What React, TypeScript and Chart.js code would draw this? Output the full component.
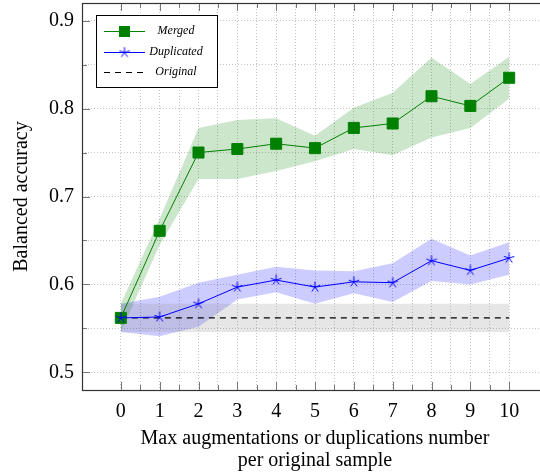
import { useEffect, useRef } from "react";
import { Chart, registerables } from "chart.js";

Chart.register(...registerables);

const xValues = [0, 1, 2, 3, 4, 5, 6, 7, 8, 9, 10];
const mergedMean = [0.562, 0.661, 0.75, 0.754, 0.76, 0.755, 0.778, 0.783, 0.814, 0.803, 0.835];
const mergedUpper = [0.578, 0.675, 0.778, 0.787, 0.789, 0.769, 0.801, 0.818, 0.858, 0.828, 0.859];
const mergedLower = [0.546, 0.645, 0.72, 0.72, 0.729, 0.74, 0.754, 0.747, 0.767, 0.778, 0.811];
const dupMean = [0.562, 0.563, 0.578, 0.597, 0.605, 0.597, 0.603, 0.602, 0.627, 0.616, 0.63];
const dupUpper = [0.578, 0.586, 0.602, 0.611, 0.62, 0.616, 0.615, 0.624, 0.652, 0.633, 0.648];
const dupLower = [0.546, 0.541, 0.552, 0.583, 0.591, 0.578, 0.59, 0.58, 0.604, 0.6, 0.611];
const origMean = [0.562, 0.562, 0.562, 0.562, 0.562, 0.562, 0.562, 0.562, 0.562, 0.562, 0.562];
const origUpper = [0.578, 0.578, 0.578, 0.578, 0.578, 0.578, 0.578, 0.578, 0.578, 0.578, 0.578];
const origLower = [0.546, 0.546, 0.546, 0.546, 0.546, 0.546, 0.546, 0.546, 0.546, 0.546, 0.546];
const xTickValues = [0, 0.5, 1, 1.5, 2, 2.5, 3, 3.5, 4, 4.5, 5, 5.5, 6, 6.5, 7, 7.5, 8, 8.5, 9, 9.5, 10];
const legendLabels = ["Merged", "Duplicated", "Original"];
const xTitle = ["Max augmentations or duplications number", "per original sample"];
const yTitle = "Balanced accuracy";

const FONT = "'Liberation Serif', 'Times New Roman', serif";
const GREEN = "rgb(0,128,0)";
const BLUE = "rgb(0,0,255)";

function pts(ys: number[]) {
  return xValues.map((x, i) => ({ x, y: ys[i] }));
}

function makeStar(size: number, color: string) {
  const c = document.createElement("canvas");
  c.width = size;
  c.height = size;
  const ctx = c.getContext("2d")!;
  const cx = size / 2, cy = size / 2, r = size / 2 - 0.5;
  ctx.strokeStyle = color;
  ctx.lineWidth = 1;
  ctx.beginPath();
  for (let k = 0; k < 5; k++) {
    const a = -Math.PI / 2 + (k * 2 * Math.PI) / 5;
    ctx.moveTo(cx, cy);
    ctx.lineTo(cx + r * Math.cos(a), cy + r * Math.sin(a));
  }
  ctx.stroke();
  return c;
}

export default function App() {
  const ref = useRef<HTMLCanvasElement | null>(null);
  useEffect(() => {
    if (!ref.current) return;
    const star = makeStar(12, BLUE);

    const framePlugin = {
      id: "pgfFrame",
      afterDatasetsDraw(chart: any) {
        const { ctx, chartArea: a, scales } = chart;
        const xs = scales.x, ys = scales.y;
        ctx.save();
        ctx.strokeStyle = "#777";
        ctx.lineWidth = 1;
        ctx.beginPath();
        xs.ticks.forEach((t: any) => {
          const px = Math.round(xs.getPixelForValue(t.value)) + 0.5;
          const len = Number.isInteger(t.value) ? 8 : 5;
          ctx.moveTo(px, a.bottom);
          ctx.lineTo(px, a.bottom - len);
          ctx.moveTo(px, a.top);
          ctx.lineTo(px, a.top + len);
        });
        ys.ticks.forEach((t: any) => {
          const py = Math.round(ys.getPixelForValue(t.value)) + 0.5;
          const major = Math.abs(t.value * 10 - Math.round(t.value * 10)) < 1e-6;
          const len = major ? 8 : 5;
          ctx.moveTo(a.left, py);
          ctx.lineTo(a.left + len, py);
          ctx.moveTo(a.right, py);
          ctx.lineTo(a.right - len, py);
        });
        ctx.stroke();
        ctx.strokeStyle = "#333";
        ctx.lineWidth = 1.2;
        ctx.strokeRect(a.left + 0.5, a.top + 0.5, a.right - a.left - 1, a.bottom - a.top);
        ctx.restore();
      },
      afterDraw(chart: any) {
        const { ctx } = chart;
        ctx.save();
        const bx = 96.5, by = 15.5, bw = 121, bh = 72;
        ctx.fillStyle = "#fff";
        ctx.fillRect(bx, by, bw, bh);
        ctx.strokeStyle = "#000";
        ctx.lineWidth = 1;
        ctx.strokeRect(bx, by, bw, bh);
        const rows = [31, 52, 72];
        const x0 = 104, x1 = 145, xm = 124.5;
        ctx.strokeStyle = GREEN;
        ctx.lineWidth = 1;
        ctx.beginPath();
        ctx.moveTo(x0, rows[0] + 0.5);
        ctx.lineTo(x1, rows[0] + 0.5);
        ctx.stroke();
        ctx.fillStyle = GREEN;
        ctx.fillRect(xm - 5.5, rows[0] - 5, 11, 11);
        ctx.strokeStyle = BLUE;
        ctx.beginPath();
        ctx.moveTo(x0, rows[1] + 0.5);
        ctx.lineTo(x1, rows[1] + 0.5);
        ctx.stroke();
        ctx.drawImage(star, xm - 6, rows[1] - 5.5);
        ctx.strokeStyle = "#000";
        ctx.setLineDash([6, 5]);
        ctx.beginPath();
        ctx.moveTo(x0, rows[2] + 0.5);
        ctx.lineTo(x1 + 2, rows[2] + 0.5);
        ctx.stroke();
        ctx.setLineDash([]);
        ctx.fillStyle = "#000";
        ctx.font = "italic 12px " + FONT;
        ctx.textAlign = "center";
        ctx.textBaseline = "middle";
        legendLabels.forEach((l, i) => ctx.fillText(l, 176, rows[i]));
        ctx.restore();
      },
    };

    const chart = new Chart(ref.current, {
      type: "line",
      data: {
        datasets: [
          { data: pts(origUpper), fill: "+1", backgroundColor: "rgba(128,128,128,0.2)", borderWidth: 0, pointRadius: 0, order: 10 },
          { data: pts(origLower), fill: false, borderWidth: 0, pointRadius: 0, order: 10 },
          { data: pts(mergedUpper), fill: "+1", backgroundColor: "rgba(0,128,0,0.2)", borderWidth: 0, pointRadius: 0, order: 10 },
          { data: pts(mergedLower), fill: false, borderWidth: 0, pointRadius: 0, order: 10 },
          { data: pts(dupUpper), fill: "+1", backgroundColor: "rgba(0,0,255,0.2)", borderWidth: 0, pointRadius: 0, order: 10 },
          { data: pts(dupLower), fill: false, borderWidth: 0, pointRadius: 0, order: 10 },
          { data: pts(origMean), fill: false, borderColor: "#000", borderWidth: 1.2, borderDash: [6, 5], pointRadius: 0, order: 3 },
          { data: pts(mergedMean), fill: false, borderColor: GREEN, borderWidth: 1, pointStyle: "rect", pointRadius: 7.8, pointBackgroundColor: GREEN, pointBorderColor: GREEN, pointBorderWidth: 1, order: 2 },
          { data: pts(dupMean), fill: false, borderColor: BLUE, borderWidth: 1, pointStyle: star as any, pointRadius: 6, order: 1 },
        ],
      },
      options: {
        animation: false,
        responsive: true,
        maintainAspectRatio: false,
        events: [],
        layout: { padding: { left: 0, right: 0, top: 3, bottom: 0 }, autoPadding: false },
        plugins: {
          legend: { display: false },
          tooltip: { enabled: false },
          filler: { drawTime: "beforeDatasetsDraw" } as any,
        },
        scales: {
          x: {
            type: "linear",
            min: -1,
            max: 11,
            afterBuildTicks: (s: any) => {
              s.ticks = xTickValues.map((v) => ({ value: v }));
            },
            afterFit: (s: any) => {
              s.height = 86;
              s.paddingLeft = 0;
              s.paddingRight = 0;
            },
            ticks: {
              autoSkip: false,
              maxRotation: 0,
              padding: 10,
              color: "#000",
              font: { family: FONT, size: 20 },
              callback: (v: any) => (Number.isInteger(v) ? String(v) : ""),
            },
            grid: { color: "#c4c4c4", lineWidth: 1, drawTicks: false },
            border: { display: false, dash: [1, 2] },
            title: {
              display: true,
              text: xTitle,
              color: "#000",
              font: { family: FONT, size: 20, lineHeight: 1.1 },
              padding: { top: 4, bottom: 4 },
            },
          },
          y: {
            type: "linear",
            min: 0.48,
            max: 0.92,
            afterFit: (s: any) => {
              s.width = 82;
              s.paddingTop = 0;
              s.paddingBottom = 0;
            },
            ticks: {
              stepSize: 0.05,
              includeBounds: false,
              autoSkip: false,
              padding: 8,
              color: "#000",
              font: { family: FONT, size: 20 },
              callback: (v: any) => {
                const n = Number(v);
                return Math.abs(n * 10 - Math.round(n * 10)) < 1e-6 ? n.toFixed(1) : "";
              },
            },
            grid: { color: "#c4c4c4", lineWidth: 1, drawTicks: false },
            border: { display: false, dash: [1, 2] },
            title: {
              display: true,
              text: yTitle,
              color: "#000",
              font: { family: FONT, size: 20 },
              padding: { top: 10, bottom: 0 },
            },
          },
        },
      },
      plugins: [framePlugin],
    });
    return () => chart.destroy();
  }, []);

  return (
    <div style={{ position: "fixed", left: 0, top: 0, width: 540, height: 476, overflow: "hidden", background: "#fff" }}>
      <div style={{ position: "relative", width: 548, height: 476 }}>
        <canvas ref={ref} />
      </div>
    </div>
  );
}
